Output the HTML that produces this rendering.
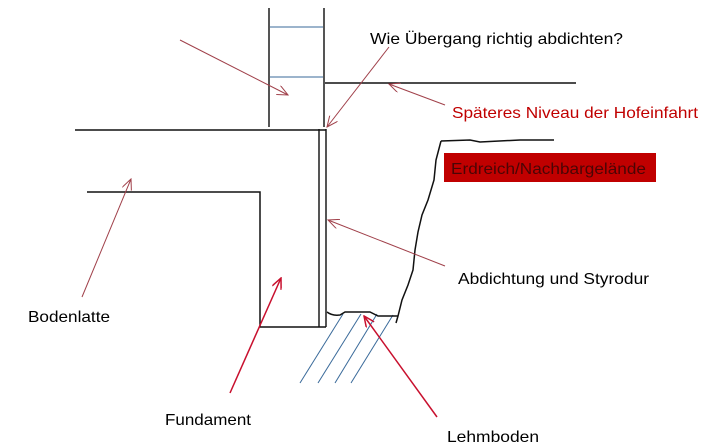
<!DOCTYPE html>
<html><head><meta charset="utf-8"><style>
html,body{margin:0;padding:0;background:#fff;}
svg{display:block;}
text{font-family:"Liberation Sans",sans-serif;font-size:16px;}
</style></head><body>
<svg width="710" height="446" viewBox="0 0 710 446" xmlns="http://www.w3.org/2000/svg">
<defs>
<marker id="a" markerWidth="12" markerHeight="10" refX="11" refY="5" orient="auto" markerUnits="userSpaceOnUse">
<path d="M0,0 L11,5 L0,10" fill="none" stroke="#a0404a" stroke-width="1"/></marker>
<marker id="b" markerWidth="12" markerHeight="10" refX="11" refY="5" orient="auto" markerUnits="userSpaceOnUse">
<path d="M0,0 L11,5 L0,10" fill="none" stroke="#c8102e" stroke-width="1.5"/></marker>
</defs>
<g stroke="#555" stroke-width="2" fill="none">
<line x1="269" y1="8" x2="269" y2="127"/>
<line x1="324" y1="8" x2="324" y2="127"/>
<line x1="319" y1="129" x2="319" y2="327"/>
<line x1="326" y1="129" x2="326" y2="327"/>
</g>
<g stroke="#3a6a9a" stroke-width="1">
<line x1="270" y1="27" x2="323" y2="27"/>
<line x1="270" y1="77" x2="323" y2="77"/>
<line x1="300" y1="383" x2="343" y2="314"/>
<line x1="318" y1="383" x2="361" y2="314"/>
<line x1="335" y1="383" x2="377" y2="314"/>
<line x1="351" y1="383" x2="393" y2="315"/>
</g>
<g stroke="#111" stroke-width="1.5" fill="none">
<line x1="325" y1="83" x2="576" y2="83"/>
<line x1="75" y1="130" x2="326" y2="130"/>
<polyline points="87,192 260,192 260,327 326,327"/>
<path d="M441,141 L470,140 L480,142 L520,140 L554,140"/>
<path d="M441,141 L436,160 L434,180 L428,200 L422,215 L418,232 L415,250 L413,270 L408,285 L402,300 L398,316 L396,323"/>
<path d="M327,312 Q332,316 340,315 L345,312 L370,312 L378,316 L398,316"/>
</g>
<g stroke="#a0404a" stroke-width="1" fill="none" marker-end="url(#a)">
<line x1="180" y1="40" x2="288" y2="95"/>
<line x1="389" y1="47" x2="327" y2="127"/>
<line x1="445" y1="105" x2="389" y2="84"/>
<line x1="445" y1="266" x2="328" y2="220"/>
<line x1="82" y1="297" x2="131" y2="179"/>
</g>
<g stroke="#c8102e" stroke-width="1.5" fill="none" marker-end="url(#b)">
<line x1="230" y1="393" x2="281" y2="278"/>
<line x1="437" y1="417" x2="364" y2="316"/>
</g>
<text x="370" y="44" textLength="253" lengthAdjust="spacingAndGlyphs">Wie Übergang richtig abdichten?</text>
<text x="452" y="118" fill="#c00000" textLength="246" lengthAdjust="spacingAndGlyphs">Späteres Niveau der Hofeinfahrt</text>
<rect x="444" y="153" width="212" height="29" fill="#c00000"/>
<text x="451" y="174" fill="#4a0505" textLength="195" lengthAdjust="spacingAndGlyphs">Erdreich/Nachbargelände</text>
<text x="458" y="284" textLength="191" lengthAdjust="spacingAndGlyphs">Abdichtung und Styrodur</text>
<text x="28" y="322" textLength="82" lengthAdjust="spacingAndGlyphs">Bodenlatte</text>
<text x="165" y="425" textLength="86" lengthAdjust="spacingAndGlyphs">Fundament</text>
<text x="447" y="442" textLength="92" lengthAdjust="spacingAndGlyphs">Lehmboden</text>
</svg>
</body></html>
